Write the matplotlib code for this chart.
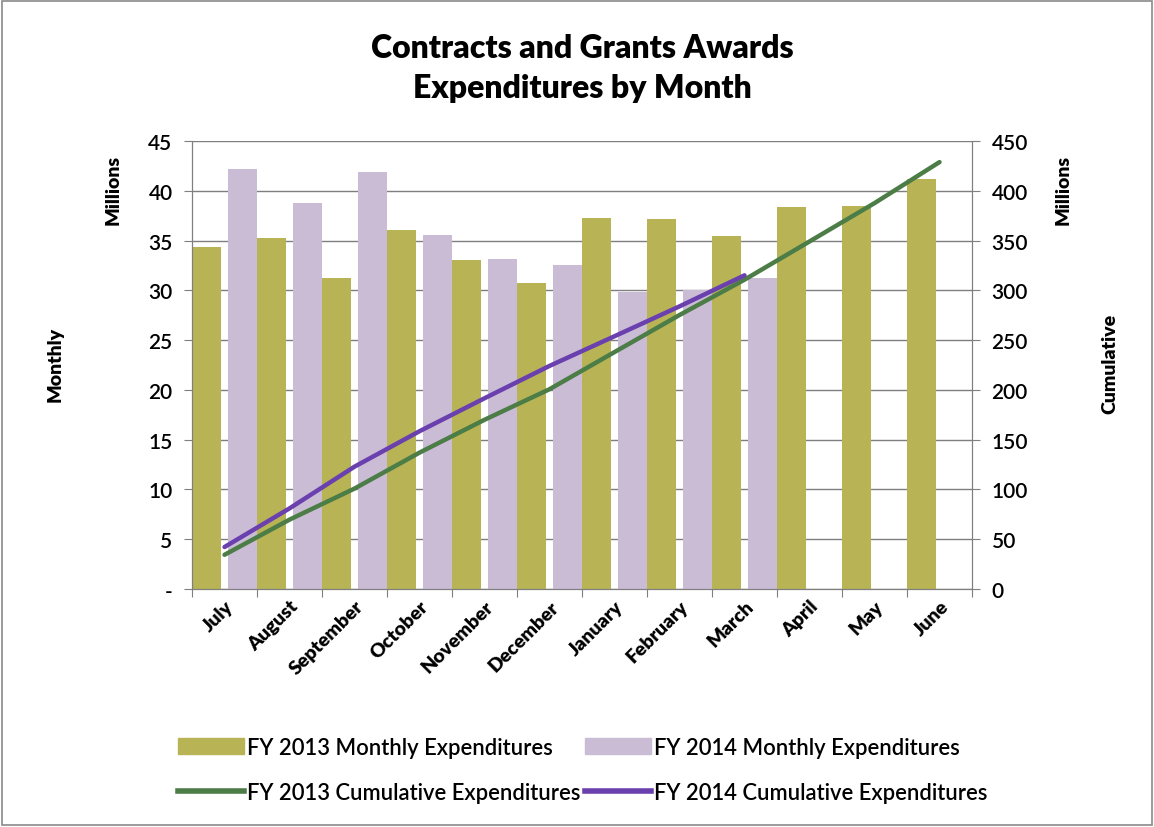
import numpy as np
import matplotlib.pyplot as plt
from matplotlib.patches import Patch, Rectangle
from matplotlib.lines import Line2D

plt.rcParams['font.family'] = ['Lato', 'DejaVu Sans']

months = ['July', 'August', 'September', 'October', 'November', 'December',
          'January', 'February', 'March', 'April', 'May', 'June']

# monthly expenditures, millions
fy13_monthly = [34.4, 35.3, 31.2, 36.1, 33.0, 30.7, 37.3, 37.2, 35.5, 38.4, 38.5, 41.2]
fy14_monthly = [42.2, 38.8, 41.9, 35.6, 33.1, 32.5, 29.8, 30.0, 31.2]

# cumulative expenditures, millions
fy13_cum = [34.4, 69.7, 100.9, 137.0, 170.0, 200.7, 238.0, 275.2, 310.7, 349.1, 387.6, 428.8]
fy14_cum = [42.2, 81.0, 122.9, 158.5, 191.6, 224.1, 253.9, 283.9, 315.1]

c13 = '#b8b456'
c14 = '#cbbcd6'
g13 = '#4c7d47'
p14 = '#6a3fae'
fw = 'heavy'
fw2 = 'semibold'

fig = plt.figure(figsize=(11.54, 8.28), dpi=100)
ax = fig.add_axes([0.1664, 0.2874, 0.6759, 0.5411])

x = np.arange(len(months))
w = 0.44
ax.bar(x[:len(fy13_monthly)] + 0.005, fy13_monthly, w, align='edge', color=c13, zorder=2)
ax.bar(x[:len(fy14_monthly)] + 0.555, fy14_monthly, w, align='edge', color=c14, zorder=2)

ax.set_xlim(0, 12)
ax.set_ylim(0, 45)
ax.set_yticks(np.arange(0, 46, 5))
ax.set_yticklabels(['-'] + [str(v) for v in range(5, 46, 5)], fontweight=fw2)
ax.yaxis.grid(True, color='#7f7f7f', lw=1, zorder=0)
ax.set_axisbelow(True)

ax.set_xticks(np.arange(0, 13))
ax.set_xticklabels([])
ax.set_xticks(x + 0.5, minor=True)
ax.set_xticklabels(months, minor=True, rotation=45, ha='right', rotation_mode='anchor',
                   fontsize=14, fontweight=fw)
ax.tick_params(axis='x', which='minor', length=0, pad=6)
ax.tick_params(axis='x', which='major', length=6, color='#7f7f7f', direction='out')
ax.tick_params(axis='y', length=6, color='#7f7f7f', labelsize=15, pad=8)
ax.spines['top'].set_visible(False)
for s in ['left', 'bottom', 'right']:
    ax.spines[s].set_color('#7f7f7f')

ax2 = ax.twinx()
ax2.plot(x[:len(fy13_cum)] + 0.5, fy13_cum, color=g13, lw=3.2, solid_capstyle='round', zorder=3)
ax2.plot(x[:len(fy14_cum)] + 0.5, fy14_cum, color=p14, lw=3.2, solid_capstyle='round', zorder=4)
ax2.set_ylim(0, 450)
ax2.set_yticks(np.arange(0, 451, 50))
ax2.set_yticklabels([str(v) for v in range(0, 451, 50)], fontweight=fw2)
ax2.tick_params(axis='y', length=6, color='#7f7f7f', labelsize=15, pad=8)
ax2.spines['top'].set_visible(False)
for s in ['left', 'bottom', 'right']:
    ax2.spines[s].set_color('#7f7f7f')

fig.text(0.505, 0.942, 'Contracts and Grants Awards', ha='center', va='center',
         fontsize=23, fontweight=fw)
fig.text(0.505, 0.893, 'Expenditures by Month', ha='center', va='center',
         fontsize=23, fontweight=fw)

fig.text(0.098, 0.77, 'Millions', rotation=90, ha='center', va='center', fontsize=14, fontweight=fw)
fig.text(0.048, 0.56, 'Monthly', rotation=90, ha='center', va='center', fontsize=14, fontweight=fw)
fig.text(0.921, 0.77, 'Millions', rotation=90, ha='center', va='center', fontsize=14, fontweight=fw)
fig.text(0.962, 0.56, 'Cumulative', rotation=90, ha='center', va='center', fontsize=14, fontweight=fw)

handles = [Patch(color=c13, label='FY 2013 Monthly Expenditures'),
           Line2D([], [], color=g13, lw=4, label='FY 2013 Cumulative Expenditures'),
           Patch(color=c14, label='FY 2014 Monthly Expenditures'),
           Line2D([], [], color=p14, lw=4, label='FY 2014 Cumulative Expenditures')]
leg = fig.legend(handles=handles, ncol=2, loc='center', bbox_to_anchor=(0.505, 0.069),
                 frameon=False, fontsize=15.8, handlelength=3.0, handletextpad=0.15,
                 columnspacing=0.2, labelspacing=1.1)
for t in leg.get_texts():
    t.set_fontweight(fw2)

fig.add_artist(Rectangle((0.002, 0.002), 0.996, 0.996, transform=fig.transFigure,
                         fill=False, edgecolor='#8a8a8a', lw=1.2))

fig.savefig('out.png', dpi=100)
